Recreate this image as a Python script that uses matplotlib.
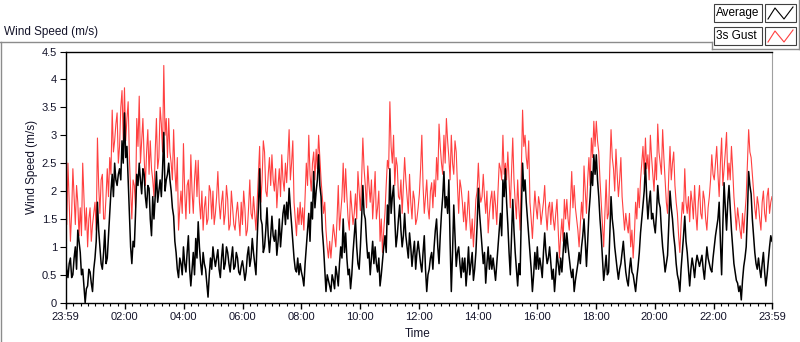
import datetime as dt
import numpy as np
import pandas as pd
import matplotlib
matplotlib.use("Agg")
import matplotlib.pyplot as plt
import matplotlib.dates as mdates
from matplotlib.lines import Line2D
from matplotlib.patches import Rectangle

# 3s gust (m/s) read every 5 minutes from 23:59, one row per hour
gust = [
    1.9, 2.5, 1.1, 2.4, 1.4, 1.8, 1.7, 2.5, 1.3, 1.0, 1.7, 1.4,
    1.8, 2.95, 1.6, 2.3, 1.5, 2.4, 2.6, 3.45, 2.9, 3.4, 2.8, 3.8,
    3.85, 3.3, 2.6, 1.5, 2.1, 3.3, 3.7, 2.9, 2.6, 2.7, 2.3, 2.4,
    1.9, 3.3, 2.6, 3.2, 4.25, 3.3, 3.3, 2.5, 3.1, 2.0, 1.3, 2.0,
    2.85, 1.5, 2.2, 2.65, 1.6, 2.55, 2.55, 1.5, 1.3, 1.9, 1.5, 2.0,
    2.0, 1.6, 2.35, 1.5, 2.0, 1.6, 1.85, 1.4, 1.7, 1.3, 1.8, 1.2,
    1.4, 1.7, 1.3, 2.2, 1.5, 1.6, 1.8, 2.8, 2.2, 2.7, 1.9, 2.6,
    2.65, 2.0, 1.7, 2.4, 2.65, 2.0, 2.15, 3.1, 2.5, 1.8, 1.2, 1.4,
    1.4, 1.3, 2.5, 3.0, 2.0, 2.7, 2.75, 3.0, 2.2, 1.6, 1.3, 0.8,
    0.8, 1.4, 1.0, 2.1, 1.6, 2.5, 2.4, 1.5, 2.0, 1.4, 1.95, 2.35,
    1.65, 2.95, 2.1, 2.45, 1.8, 1.5, 2.35, 1.7, 1.1, 0.9, 1.6, 2.55,
    3.6, 2.5, 2.1, 2.45, 1.85, 1.6, 2.6, 1.9, 2.3, 1.5, 1.85, 1.5,
    1.95, 3.0, 1.6, 2.2, 1.5, 2.15, 2.2, 2.6, 3.2, 2.5, 3.0, 3.3,
    2.6, 3.0, 2.3, 2.7, 1.6, 2.05, 1.45, 1.3, 2.0, 1.15, 1.0, 1.85,
    2.5, 1.8, 2.3, 1.6, 1.25, 1.85, 1.5, 1.75, 2.0, 2.4, 3.0, 2.5,
    2.7, 1.7, 2.95, 1.8, 2.2, 1.3, 3.45, 3.0, 2.4, 1.8, 1.15, 2.0,
    1.5, 1.75, 1.6, 2.1, 1.3, 1.8, 1.8, 1.3, 1.85, 0.8, 1.5, 1.85,
    1.85, 1.3, 2.35, 2.1, 1.5, 1.0, 1.8, 2.45, 1.6, 2.6, 2.95, 3.25,
    3.25, 2.7, 1.8, 1.0, 2.2, 1.6, 3.1, 2.4, 2.75, 1.9, 2.6, 1.6,
    1.6, 1.25, 1.0, 0.8, 1.8, 2.05, 2.2, 2.8, 2.95, 2.65, 3.0, 2.3,
    2.6, 3.2, 2.5, 3.1, 2.2, 1.6, 2.8, 2.5, 2.1, 1.6, 0.9, 1.8,
    2.4, 1.6, 1.45, 1.8, 2.1, 1.3, 2.1, 1.5, 1.85, 1.3, 1.9, 2.65,
    2.2, 2.8, 1.9, 2.95, 2.4, 3.05, 2.5, 2.8, 1.9, 1.3, 1.5, 1.15,
    1.25, 1.9, 3.1, 2.6, 2.0, 1.5, 1.75, 1.3, 2.0, 1.45, 2.05, 1.8,
]

# gust readings half way between the ones above
gust_mid = [
    1.4, 1.8, 1.6, 1.9, 2.1, 1.2, 1.2, 1.9, 1.7, 1.5, 1.1, 1.6,
    1.3, 2.1, 2.2, 1.5, 1.9, 1.9, 2.3, 2.7, 3.2, 2.5, 3.5, 2.9,
    2.9, 3.6, 2.0, 2.2, 1.7, 2.8, 2.5, 3.3, 2.1, 3.1, 2.9, 2.2,
    2.7, 2.4, 3.5, 2.7, 3.0, 2.6, 2.7, 2.2, 2.4, 2.6, 1.7, 1.6,
    2.0, 2.1, 1.6, 2.0, 2.2, 1.9, 1.8, 2.0, 1.7, 1.4, 2.1, 1.5,
    1.4, 1.9, 1.8, 1.8, 1.4, 2.1, 1.3, 2.0, 1.4, 1.6, 1.5, 1.8,
    2.0, 1.2, 1.7, 1.6, 1.9, 1.3, 2.3, 1.8, 2.9, 2.0, 2.3, 2.1,
    2.2, 2.4, 2.1, 1.9, 2.2, 2.5, 2.6, 2.2, 2.9, 1.5, 1.7, 1.8,
    1.7, 1.9, 2.1, 2.3, 2.5, 2.2, 2.4, 2.6, 1.9, 1.8, 1.0, 1.1,
    1.1, 1.2, 1.5, 1.3, 1.9, 1.8, 1.9, 1.3, 1.7, 1.6, 1.5, 2.0,
    2.2, 2.4, 1.7, 2.1, 2.2, 1.9, 1.5, 2.0, 1.5, 1.3, 2.1, 2.4,
    2.8, 3.0, 2.6, 1.9, 2.2, 2.1, 2.2, 1.6, 1.8, 2.0, 1.4, 1.7,
    2.4, 2.1, 1.9, 1.7, 2.0, 1.7, 1.9, 2.2, 2.8, 2.3, 2.5, 2.9,
    2.2, 2.5, 2.9, 2.1, 2.2, 1.8, 1.8, 1.6, 1.5, 1.5, 1.4, 2.0,
    2.0, 1.9, 1.9, 2.0, 1.6, 2.0, 2.0, 1.4, 2.5, 2.2, 2.3, 2.2,
    2.2, 2.3, 2.2, 1.5, 1.7, 2.4, 2.8, 2.6, 2.9, 1.5, 1.6, 1.7,
    1.9, 1.4, 1.8, 1.6, 1.7, 1.4, 1.5, 1.6, 1.3, 1.2, 1.1, 1.5,
    1.5, 1.8, 1.7, 1.7, 1.3, 1.4, 1.5, 2.0, 2.2, 2.1, 2.6, 2.8,
    2.9, 2.2, 1.4, 1.6, 1.5, 2.4, 2.6, 2.0, 2.3, 2.2, 1.9, 1.3,
    1.4, 1.6, 1.3, 1.2, 1.5, 1.7, 2.5, 2.3, 2.4, 2.2, 2.6, 2.0,
    2.2, 2.7, 2.3, 2.6, 1.8, 2.3, 2.2, 2.7, 1.8, 1.2, 1.4, 1.6,
    1.8, 1.9, 2.0, 1.5, 1.6, 1.8, 1.6, 2.0, 1.5, 1.7, 2.2, 2.3,
    2.5, 2.3, 2.5, 2.1, 2.7, 2.2, 2.2, 2.4, 1.6, 1.7, 1.3, 1.6,
    1.6, 2.5, 2.7, 2.3, 1.7, 1.9, 1.5, 1.8, 1.6, 1.9, 1.6, 1.9,
]

# average wind speed (m/s), same 5-minute readings
average = [
    0.9, 0.45, 0.8, 0.5, 1.0, 1.3, 0.9, 0.6, 0.0, 0.3, 0.55, 0.2,
    0.8, 1.8, 1.0, 0.6, 1.3, 0.8, 1.6, 2.3, 2.5, 2.1, 2.4, 2.9,
    3.4, 2.8, 1.6, 0.7, 1.0, 2.3, 2.5, 1.95, 2.3, 1.7, 2.05, 1.2,
    1.5, 2.35, 2.0, 1.9, 3.05, 2.2, 2.5, 2.0, 1.55, 0.9, 0.45, 0.7,
    1.0, 0.55, 1.2, 0.3, 0.9, 1.15, 1.45, 0.7, 0.9, 0.6, 0.1, 0.8,
    1.0, 0.65, 0.95, 0.45, 1.05, 0.7, 0.9, 0.55, 1.0, 0.65, 0.8, 0.5,
    0.75, 0.4, 0.85, 0.65, 1.15, 0.7, 1.15, 2.4, 1.4, 1.0, 1.7, 0.9,
    1.55, 1.1, 0.85, 1.5, 1.3, 1.75, 1.8, 2.05, 1.4, 0.8, 0.55, 0.5,
    0.55, 0.3, 1.0, 1.6, 1.8, 2.35, 2.0, 2.65, 1.9, 1.0, 0.2, 0.4,
    0.2, 0.4, 0.65, 0.3, 1.0, 1.5, 1.25, 0.5, 0.25, 0.9, 1.5, 0.7,
    1.0, 2.1, 1.5, 0.8, 0.5, 1.1, 1.0, 0.55, 0.3, 0.75, 1.2, 1.75,
    2.4, 1.9, 1.5, 1.2, 1.75, 1.0, 1.6, 1.0, 1.25, 0.65, 1.1, 0.9,
    0.9, 0.55, 1.2, 0.2, 0.6, 0.9, 1.0, 1.5, 0.7, 1.6, 2.35, 1.9,
    2.2, 0.2, 1.75, 0.65, 1.0, 0.45, 0.55, 0.3, 1.0, 0.7, 0.4, 0.9,
    2.05, 1.3, 0.7, 0.35, 1.0, 0.85, 0.8, 0.4, 1.0, 1.6, 2.2, 2.4,
    1.4, 0.5, 1.85, 0.9, 0.3, 0.5, 2.5, 2.2, 1.5, 0.9, 0.2, 0.9,
    1.0, 0.8, 0.45, 1.25, 0.7, 1.0, 0.42, 0.2, 0.9, 0.5, 0.55, 1.25,
    1.25, 0.8, 0.45, 0.2, 0.55, 0.9, 1.0, 1.5, 0.65, 1.6, 2.35, 2.65,
    2.65, 1.9, 1.2, 0.4, 0.85, 0.55, 1.9, 1.3, 0.8, 0.42, 0.7, 1.1,
    0.55, 0.3, 0.8, 0.5, 0.2, 0.65, 1.25, 1.75, 2.5, 1.5, 2.0, 1.6,
    1.25, 2.1, 1.7, 1.0, 0.55, 0.85, 2.0, 1.5, 1.0, 0.5, 0.2, 0.9,
    1.55, 0.9, 0.3, 0.8, 0.45, 0.85, 0.65, 0.85, 0.42, 1.0, 0.7, 0.55,
    1.0, 1.35, 1.8, 0.5, 2.15, 1.3, 2.1, 1.3, 0.7, 0.4, 0.2, 0.05,
    0.65, 1.0, 2.35, 1.95, 1.2, 0.7, 0.8, 0.45, 0.9, 0.3, 0.75, 1.2,
]

# average readings half way between the ones above
average_mid = [
    0.6, 0.7, 0.45, 0.8, 0.6, 1.1, 0.5, 0.3, 0.25, 0.6, 0.35, 0.6,
    1.1, 1.3, 0.7, 0.9, 0.7, 1.2, 2.0, 1.9, 2.2, 2.3, 2.2, 2.5,
    2.6, 2.2, 1.0, 1.1, 1.6, 2.1, 2.2, 2.4, 1.9, 2.1, 1.5, 1.9,
    1.9, 1.8, 2.2, 2.4, 2.0, 2.3, 2.2, 1.7, 1.1, 0.6, 0.8, 0.5,
    0.7, 0.9, 0.6, 0.6, 0.5, 0.8, 1.0, 0.5, 0.7, 0.35, 0.5, 0.6,
    0.8, 0.8, 0.6, 0.8, 0.6, 1.0, 0.7, 0.8, 0.6, 0.9, 0.55, 0.65,
    0.6, 0.55, 1.0, 0.8, 0.9, 0.5, 1.7, 1.5, 0.9, 1.3, 1.2, 1.2,
    1.2, 1.3, 1.1, 1.0, 1.6, 1.4, 1.5, 1.7, 1.1, 0.6, 0.8, 0.7,
    0.45, 0.7, 1.3, 1.1, 1.5, 1.7, 2.2, 2.1, 1.3, 0.6, 0.5, 0.3,
    0.5, 0.25, 0.5, 0.7, 0.8, 0.9, 0.8, 0.6, 0.5, 1.2, 1.0, 0.6,
    1.5, 1.6, 1.1, 0.9, 0.8, 0.7, 0.7, 0.8, 0.5, 1.0, 0.9, 1.4,
    1.6, 2.1, 1.0, 1.5, 1.3, 1.2, 1.2, 0.8, 1.0, 0.9, 0.6, 1.1,
    0.7, 0.9, 0.6, 0.5, 0.8, 0.6, 1.3, 1.0, 1.2, 1.9, 1.7, 1.6,
    1.1, 0.9, 1.2, 0.9, 0.7, 0.8, 0.8, 0.6, 0.5, 0.9, 0.6, 1.4,
    1.6, 1.0, 0.9, 0.7, 0.6, 0.6, 0.6, 0.7, 1.3, 1.2, 1.9, 1.8,
    0.9, 1.2, 1.3, 0.6, 0.7, 1.6, 2.0, 1.8, 1.2, 0.6, 0.5, 0.6,
    0.6, 0.65, 0.9, 0.9, 0.8, 0.7, 0.6, 0.5, 0.7, 0.8, 0.9, 0.9,
    1.0, 0.6, 0.6, 0.4, 0.7, 0.7, 1.2, 1.1, 1.1, 1.9, 2.1, 2.3,
    2.2, 1.5, 0.8, 0.6, 0.5, 1.2, 1.5, 1.0, 0.6, 0.6, 0.9, 0.8,
    0.4, 0.6, 0.55, 0.35, 0.45, 0.9, 1.5, 2.0, 1.9, 1.8, 1.5, 1.4,
    1.6, 1.8, 1.3, 0.8, 0.7, 1.4, 1.7, 1.2, 0.7, 0.4, 0.6, 1.2,
    1.1, 0.6, 0.6, 0.65, 0.7, 0.75, 0.75, 0.6, 0.7, 0.8, 0.6, 0.8,
    1.2, 1.5, 1.1, 1.4, 1.7, 1.8, 1.7, 1.0, 0.55, 0.35, 0.3, 0.4,
    0.8, 1.6, 2.1, 1.5, 0.9, 0.6, 0.6, 0.7, 0.55, 0.5, 1.0, 1.1,
]

series_names = ["Average", "3s Gust"]
y_ticks = [0, 0.5, 1, 1.5, 2, 2.5, 3, 3.5, 4, 4.5]
y_tick_labels = ["0", "0.5", "1", "1.5", "2", "2.5", "3", "3.5", "4", "4.5"]

start = dt.datetime(2021, 5, 1, 23, 59)
end = start + dt.timedelta(hours=24)

# merge the two readings of each series in time order
gust_all = np.column_stack([gust, gust_mid]).ravel()
avg_all = np.column_stack([average, average_mid]).ravel()
times = pd.date_range(start, end, periods=len(gust_all))

W, H = 800, 342
plt.rcParams["font.family"] = ["Liberation Sans", "DejaVu Sans"]
text_col = "#14142a"


def fx(x):
    return x / W


def fy(y):
    return 1 - y / H


fig = plt.figure(figsize=(W / 100, H / 100), dpi=100)
ax = fig.add_axes([fx(65.5), fy(302.7), (772 - 65.5) / W, (302.7 - 51.5) / H])

ax.plot(times, gust_all, color="#ff4040", lw=0.8, zorder=2)
ax.plot(times, avg_all, color="black", lw=1.1, zorder=3)

ax.set_xlim(start, end)
ax.set_ylim(0, 4.5)
ax.set_yticks(y_ticks)
ax.set_yticklabels(y_tick_labels)

day2 = start + dt.timedelta(minutes=1)
major = [start] + [day2 + dt.timedelta(hours=h) for h in range(2, 24, 2)] + [end]
ax.set_xticks(major)
ax.set_xticklabels([m.strftime("%H:%M") for m in major])
ax.xaxis.set_minor_locator(mdates.MinuteLocator(byminute=[0, 15, 30, 45]))

ax.tick_params(axis="y", direction="out", length=4.5, width=0.8, pad=1.5,
               labelsize=8, labelcolor=text_col)
ax.tick_params(axis="x", which="major", direction="out", length=4.5, width=1,
               pad=2.5, labelsize=8, labelcolor=text_col)
ax.tick_params(axis="x", which="minor", direction="out", length=2.5, width=0.8)

for side in ["top", "left", "bottom"]:
    ax.spines[side].set_color("black")
    ax.spines[side].set_linewidth(1)
ax.spines["right"].set_color("#a0a0a0")

# labels
fig.text(fx(32), fy(167), "Wind Speed (m/s)", rotation=90, ha="center",
         va="center", fontsize=8.5, color=text_col)
fig.text(fx(418), fy(334), "Time", ha="center", va="center", fontsize=8.5,
         color=text_col)
fig.text(fx(4), fy(32), "Wind Speed (m/s)", ha="left", va="center",
         fontsize=8.5, color=text_col)

# graph frame
frame = "#8c8c8c"
fig.add_artist(Line2D([fx(0), fx(712)], [fy(41.5), fy(41.5)], color=frame, lw=1))
fig.add_artist(Line2D([fx(1), fx(1)], [fy(41.5), fy(342)], color=frame, lw=1))
fig.add_artist(Line2D([fx(712), fx(712)], [fy(41.5), fy(49)], color=frame, lw=1))
fig.add_artist(Line2D([fx(712), fx(799)], [fy(49), fy(49)], color=frame, lw=1))
fig.add_artist(Line2D([fx(798.5), fx(798.5)], [fy(0), fy(49)], color=frame, lw=1))

# plot legend
for i, (name, col) in enumerate(zip(series_names, ["black", "#ff4040"])):
    top = 4 + i * 23
    fig.add_artist(Rectangle((fx(714), fy(top + 18)), 48 / W, 18 / H,
                             transform=fig.transFigure, fill=False,
                             ec="#404040", lw=0.8))
    fig.add_artist(Rectangle((fx(765), fy(top + 18)), 31 / W, 18 / H,
                             transform=fig.transFigure, fill=False,
                             ec="#404040", lw=0.8))
    fig.text(fx(716), fy(top + 9), name, ha="left", va="center",
             fontsize=8.5, color="black")
    zx = [768, 775, 784, 793]
    zy = [top + 15, top + 4, top + 15, top + 3]
    fig.add_artist(Line2D([fx(v) for v in zx], [fy(v) for v in zy],
                          color=col, lw=0.8))

fig.savefig("out.png", dpi=100)
